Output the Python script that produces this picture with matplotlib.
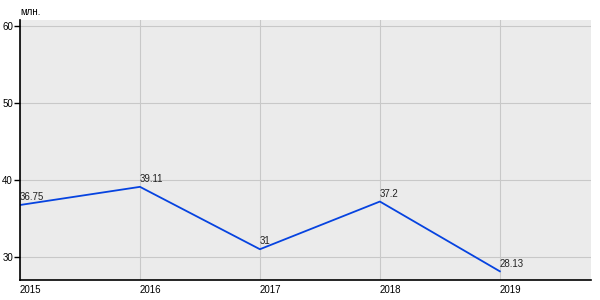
import numpy as np
import matplotlib.pyplot as plt

# данные
years = [2015, 2016, 2017, 2018, 2019]
values = [36.75, 39.11, 31, 37.2, 28.13]
labels = ['36.75', '39.11', '31', '37.2', '28.13']
y_ticks = [30, 40, 50, 60]

plt.rcParams['font.family'] = ['Liberation Sans', 'DejaVu Sans']

fig = plt.figure(figsize=(6, 3), dpi=100)
ax = fig.add_axes([20 / 600, 20 / 300, 571 / 600, 260 / 300])
ax.set_facecolor('#ebebeb')

ax.plot(years, values, color='#0643e0', lw=1.3)
for x, y, t in zip(years, values, labels):
    ax.annotate(t, (x, y), xytext=(0, 2), textcoords='offset points',
                ha='left', va='bottom', fontsize=7, color='#222222')

ax.set_xlim(2015, 2019.76)
ax.set_ylim(27.0, 60.8)
ax.set_xticks(years)
ax.set_xticklabels([str(y) for y in years], ha='left')
ax.set_yticks(y_ticks)
ax.grid(True, color='#c8c8c8', lw=0.8)
ax.set_axisbelow(True)

for s in ['top', 'right']:
    ax.spines[s].set_visible(False)
for s in ['left', 'bottom']:
    ax.spines[s].set_color('black')
    ax.spines[s].set_linewidth(1.2)

ax.tick_params(axis='y', length=4, width=1, labelsize=7, pad=1)
ax.tick_params(axis='x', length=0, labelsize=7, pad=3.5)

fig.text(20 / 600, 1 - 12 / 300, 'млн.', fontsize=7, ha='left', va='center')

plt.savefig('out.png', dpi=100)
